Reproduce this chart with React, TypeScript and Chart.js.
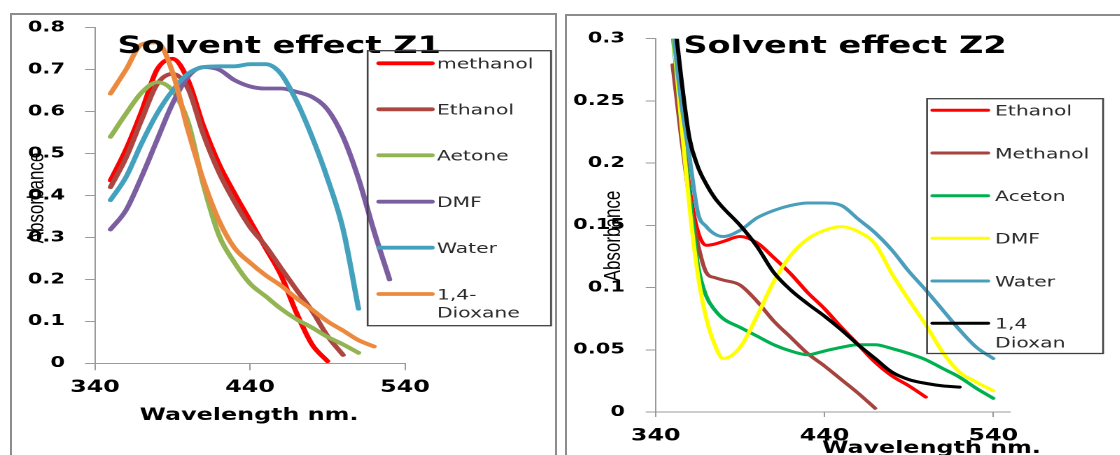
import React, { useEffect, useRef } from 'react';
import { Chart, registerables } from 'chart.js';

Chart.register(...registerables);

// ---------- Data: Solvent effect Z1 ----------
const Z1_WAVELENGTHS = [350, 360, 370, 380, 390, 400, 410, 420, 430, 440, 450, 460, 470, 480, 490, 500, 510, 520, 530];
const Z1_METHANOL = [0.436, 0.51, 0.6, 0.7, 0.726, 0.675, 0.565, 0.475, 0.405, 0.34, 0.275, 0.21, 0.12, 0.045, 0.005, null, null, null, null];
const Z1_ETHANOL = [0.42, 0.49, 0.58, 0.665, 0.69, 0.655, 0.545, 0.455, 0.385, 0.325, 0.28, 0.227, 0.175, 0.125, 0.065, 0.02, null, null, null];
const Z1_AETONE = [0.54, 0.595, 0.645, 0.67, 0.65, 0.575, 0.425, 0.305, 0.24, 0.19, 0.16, 0.13, 0.105, 0.085, 0.063, 0.045, 0.025, null, null];
const Z1_DMF = [0.319, 0.365, 0.444, 0.532, 0.619, 0.683, 0.706, 0.7, 0.675, 0.66, 0.655, 0.655, 0.647, 0.635, 0.605, 0.54, 0.44, 0.315, 0.2];
const Z1_WATER = [0.389, 0.444, 0.524, 0.595, 0.65, 0.69, 0.706, 0.708, 0.708, 0.713, 0.713, 0.69, 0.625, 0.54, 0.44, 0.32, 0.13, null, null];
const Z1_DIOXANE = [0.643, 0.7, 0.76, 0.765, 0.694, 0.556, 0.435, 0.34, 0.275, 0.24, 0.21, 0.185, 0.155, 0.128, 0.1, 0.078, 0.055, 0.04, null];
const Z1_SERIES = [Z1_METHANOL, Z1_ETHANOL, Z1_AETONE, Z1_DMF, Z1_WATER, Z1_DIOXANE];
const Z1_NAMES = ['methanol', 'Ethanol', 'Aetone', 'DMF', 'Water', '1,4-Dioxane'];
const Z1_LEGEND_TEXT = [['methanol'], ['Ethanol'], ['Aetone'], ['DMF'], ['Water'], ['1,4-', 'Dioxane']];
const Z1_COLORS = ['#FF0000', '#AD4540', '#93B453', '#7B5EA0', '#44A1BD', '#EB8A3E'];
const Z1_X_TICKS = [340, 440, 540];
const Z1_Y_TICKS = [0, 0.1, 0.2, 0.3, 0.4, 0.5, 0.6, 0.7, 0.8];
const Z1_Y_LABELS = ['0', '0.1', '0.2', '0.3', '0.4', '0.5', '0.6', '0.7', '0.8'];

// ---------- Data: Solvent effect Z2 ----------
const Z2_WAVELENGTHS = [350, 355, 360, 365, 370, 375, 380, 390, 400, 410, 420, 430, 440, 450, 460, 470, 480, 490, 500, 510, 520, 530, 540];
const Z2_ETHANOL = [0.31, 0.24, 0.18, 0.145, 0.134, 0.135, 0.137, 0.141, 0.136, 0.124, 0.111, 0.096, 0.083, 0.068, 0.054, 0.04, 0.029, 0.021, 0.012, null, null, null, null];
const Z2_METHANOL = [0.279, 0.222, 0.172, 0.135, 0.112, 0.108, 0.106, 0.102, 0.089, 0.073, 0.06, 0.047, 0.037, 0.026, 0.015, 0.003, null, null, null, null, null, null, null];
const Z2_ACETON = [0.305, 0.235, 0.175, 0.118, 0.093, 0.082, 0.075, 0.068, 0.061, 0.054, 0.049, 0.046, 0.049, 0.052, 0.054, 0.054, 0.051, 0.047, 0.042, 0.035, 0.028, 0.019, 0.011];
const Z2_DMF = [0.31, 0.235, 0.165, 0.11, 0.075, 0.054, 0.043, 0.052, 0.077, 0.105, 0.126, 0.139, 0.146, 0.149, 0.145, 0.135, 0.111, 0.09, 0.07, 0.048, 0.032, 0.024, 0.017];
const Z2_WATER = [0.31, 0.25, 0.205, 0.16, 0.149, 0.143, 0.141, 0.146, 0.156, 0.162, 0.166, 0.168, 0.168, 0.166, 0.155, 0.144, 0.13, 0.113, 0.098, 0.082, 0.066, 0.052, 0.043];
const Z2_DIOXAN = [0.33, 0.27, 0.22, 0.197, 0.183, 0.172, 0.164, 0.15, 0.133, 0.112, 0.098, 0.087, 0.077, 0.066, 0.054, 0.043, 0.032, 0.026, 0.023, 0.021, 0.02, null, null];
const Z2_SERIES = [Z2_ETHANOL, Z2_METHANOL, Z2_ACETON, Z2_DMF, Z2_WATER, Z2_DIOXAN];
const Z2_NAMES = ['Ethanol', 'Methanol', 'Aceton', 'DMF', 'Water', '1,4 Dioxan'];
const Z2_LEGEND_TEXT = [['Ethanol'], ['Methanol'], ['Aceton'], ['DMF'], ['Water'], ['1,4', 'Dioxan']];
const Z2_COLORS = ['#FF0000', '#A5433F', '#00B050', '#FFFF00', '#4A9EBB', '#000000'];
const Z2_X_TICKS = [340, 440, 540];
const Z2_Y_TICKS = [0, 0.05, 0.1, 0.15, 0.2, 0.25, 0.3];
const Z2_Y_LABELS = ['0', '0.05', '0.1', '0.15', '0.2', '0.25', '0.3'];

// horizontal stretch applied to each chart container (the reference is stretched)
const SX = 1.4;
const AXIS_GRAY = '#9a9a9a';

type Layout = {
  padTop: number; padRight: number; padBottom: number;
  yWidth: number; xHeight: number;
  xMin: number; xMax: number; yMax: number;
  xTickLen: number; xTickPad: number; yTickLen: number; yTickPad: number;
  lineWidth: number;
  title: string; titleX: number; titleY: number;
  yTitle: string; yTitleX: number; yTitleY: number;
  xTitle: string; xTitleX: number; xTitleY: number;
  legend: { x: number; y: number; w: number; h: number; s0: number; s1: number; tx: number; ys: number[]; gap: number };
  clip: number | undefined;
};

function decorPlugin(L: Layout, legendText: string[][]) {
  return {
    id: 'decor',
    afterDraw(chart: any) {
      const ctx = chart.ctx as CanvasRenderingContext2D;
      ctx.save();
      ctx.fillStyle = '#000';
      ctx.font = 'bold 24px "DejaVu Sans"';
      ctx.textAlign = 'left';
      ctx.textBaseline = 'alphabetic';
      ctx.fillText(L.title, L.titleX, L.titleY);

      ctx.save();
      ctx.translate(L.yTitleX, L.yTitleY);
      ctx.rotate(-Math.PI / 2);
      ctx.font = '17px "Liberation Sans"';
      ctx.textAlign = 'center';
      ctx.textBaseline = 'middle';
      ctx.fillText(L.yTitle, 0, 0);
      ctx.restore();

      ctx.font = 'bold 17px "DejaVu Sans"';
      ctx.textAlign = 'center';
      ctx.textBaseline = 'alphabetic';
      ctx.fillText(L.xTitle, L.xTitleX, L.xTitleY);

      const g = L.legend;
      ctx.strokeStyle = '#404040';
      ctx.lineWidth = 1.3;
      ctx.strokeRect(g.x, g.y, g.w, g.h);
      chart.data.datasets.forEach((ds: any, i: number) => {
        const y = g.ys[i];
        ctx.strokeStyle = ds.borderColor;
        ctx.lineWidth = L.lineWidth;
        ctx.lineCap = 'round';
        ctx.beginPath();
        ctx.moveTo(g.s0, y);
        ctx.lineTo(g.s1, y);
        ctx.stroke();
        ctx.fillStyle = '#2a2a2a';
        ctx.font = '14.5px "DejaVu Sans"';
        ctx.textAlign = 'left';
        ctx.textBaseline = 'alphabetic';
        legendText[i].forEach((t, j) => ctx.fillText(t, g.tx, y + 5.3 + j * g.gap));
      });
      ctx.restore();
    },
  };
}

function buildChart(
  canvas: HTMLCanvasElement, L: Layout, wl: number[], series: (number | null)[][], names: string[],
  colors: string[], legendText: string[][], xTicks: number[], yTicks: number[], yLabels: string[],
) {
  const n = series.length;
  const datasets = series.map((vals, i) => ({
    label: names[i],
    data: wl.map((x, k) => ({ x, y: vals[k] })).filter((p) => p.y !== null),
    borderColor: colors[i],
    backgroundColor: colors[i],
    borderWidth: L.lineWidth,
    pointRadius: 0,
    cubicInterpolationMode: 'monotone' as const,
    borderCapStyle: 'round' as const,
    borderJoinStyle: 'round' as const,
    fill: false,
    order: n - 1 - i,
    clip: L.clip,
  }));
  return new Chart(canvas, {
    type: 'line',
    data: { datasets },
    options: {
      animation: false,
      responsive: true,
      maintainAspectRatio: false,
      devicePixelRatio: 2,
      events: [],
      layout: { padding: { top: L.padTop, right: L.padRight, bottom: L.padBottom, left: 0 } },
      plugins: { legend: { display: false }, title: { display: false }, tooltip: { enabled: false } },
      scales: {
        x: {
          type: 'linear',
          min: L.xMin,
          max: L.xMax,
          afterBuildTicks: (s: any) => { s.ticks = xTicks.map((v) => ({ value: v })); },
          afterFit: (s: any) => { s.height = L.xHeight; },
          ticks: {
            autoSkip: false, maxRotation: 0, padding: L.xTickPad, color: '#000',
            font: { family: 'DejaVu Sans', size: 17, weight: 'bold' },
            callback: (v: any) => String(v),
          },
          grid: { drawOnChartArea: false, drawTicks: true, tickLength: L.xTickLen, color: AXIS_GRAY, lineWidth: 1 },
          border: { display: true, color: AXIS_GRAY, width: 1 },
        },
        y: {
          type: 'linear',
          min: 0,
          max: L.yMax,
          afterBuildTicks: (s: any) => { s.ticks = yTicks.map((v) => ({ value: v })); },
          afterFit: (s: any) => { s.width = L.yWidth; },
          ticks: {
            autoSkip: false, padding: L.yTickPad, color: '#000',
            font: { family: 'DejaVu Sans', size: 15, weight: 'bold' },
            callback: (_v: any, idx: number) => yLabels[idx],
          },
          grid: { drawOnChartArea: false, drawTicks: true, tickLength: L.yTickLen, color: AXIS_GRAY, lineWidth: 1 },
          border: { display: true, color: AXIS_GRAY, width: 1 },
        },
      },
    } as any,
    plugins: [decorPlugin(L, legendText)],
  });
}

const Z1_LAYOUT: Layout = {
  padTop: 27.7, padRight: 108.7, padBottom: 51.7, yWidth: 67.86, xHeight: 40,
  xMin: 340, xMax: 540, yMax: 0.8,
  xTickLen: 7, xTickPad: 7, yTickLen: 7.14, yTickPad: 14.3,
  lineWidth: 3.8,
  title: 'Solvent effect Z1', titleX: 83.9, titleY: 53,
  yTitle: 'Absorbance', yTitleX: 26.1, yTitleY: 198,
  xTitle: 'Wavelength nm.', xTitleX: 177.9, xTitleY: 420,
  legend: { x: 262.6, y: 50.7, w: 131, h: 275, s0: 270.7, s1: 308.6, tx: 312.1, ys: [63.3, 109.3, 155.3, 201.7, 247.7, 294], gap: 18 },
  clip: undefined,
};

const Z2_LAYOUT: Layout = {
  padTop: 38.7, padRight: 78.3, padBottom: 0, yWidth: 70.5, xHeight: 43,
  xMin: 340, xMax: 550, yMax: 0.3,
  xTickLen: 5, xTickPad: 9, yTickLen: 7.14, yTickPad: 14.8,
  lineWidth: 3,
  title: 'Solvent effect Z2', titleX: 90.2, titleY: 53,
  yTitle: 'Absorbance', yTitleX: 40.4, yTitleY: 236,
  xTitle: 'Wavelength nm.', xTitleX: 267.5, xTitleY: 453,
  legend: { x: 264.3, y: 98.7, w: 125.8, h: 254.8, s0: 268.2, s1: 307.9, tx: 312.9, ys: [110.3, 153, 195.7, 238.3, 281, 323.3], gap: 19 },
  clip: 0,
};

export default function App() {
  const ref1 = useRef<HTMLCanvasElement | null>(null);
  const ref2 = useRef<HTMLCanvasElement | null>(null);

  useEffect(() => {
    const c1 = buildChart(ref1.current!, Z1_LAYOUT, Z1_WAVELENGTHS, Z1_SERIES, Z1_NAMES, Z1_COLORS, Z1_LEGEND_TEXT, Z1_X_TICKS, Z1_Y_TICKS, Z1_Y_LABELS);
    const c2 = buildChart(ref2.current!, Z2_LAYOUT, Z2_WAVELENGTHS, Z2_SERIES, Z2_NAMES, Z2_COLORS, Z2_LEGEND_TEXT, Z2_X_TICKS, Z2_Y_TICKS, Z2_Y_LABELS);
    return () => { c1.destroy(); c2.destroy(); };
  }, []);

  const frame = '2px solid #8c8c8c';
  return (
    <div style={{ position: 'fixed', left: 0, top: 0, width: 1120, height: 455, background: '#fff', overflow: 'hidden' }}>
      <div style={{ position: 'absolute', left: 10, top: 13, width: 543, height: 480, borderLeft: frame, borderTop: frame, borderRight: frame }} />
      <div style={{ position: 'absolute', left: 565, top: 14, width: 600, height: 480, borderLeft: frame, borderTop: frame }} />
      <div style={{ position: 'absolute', left: 0, top: 0, width: 398, height: 455, transform: `scaleX(${SX})`, transformOrigin: '0 0' }}>
        <canvas ref={ref1} />
      </div>
      <div style={{ position: 'absolute', left: 557, top: 0, width: 402, height: 455, transform: `scaleX(${SX})`, transformOrigin: '0 0' }}>
        <canvas ref={ref2} />
      </div>
    </div>
  );
}
